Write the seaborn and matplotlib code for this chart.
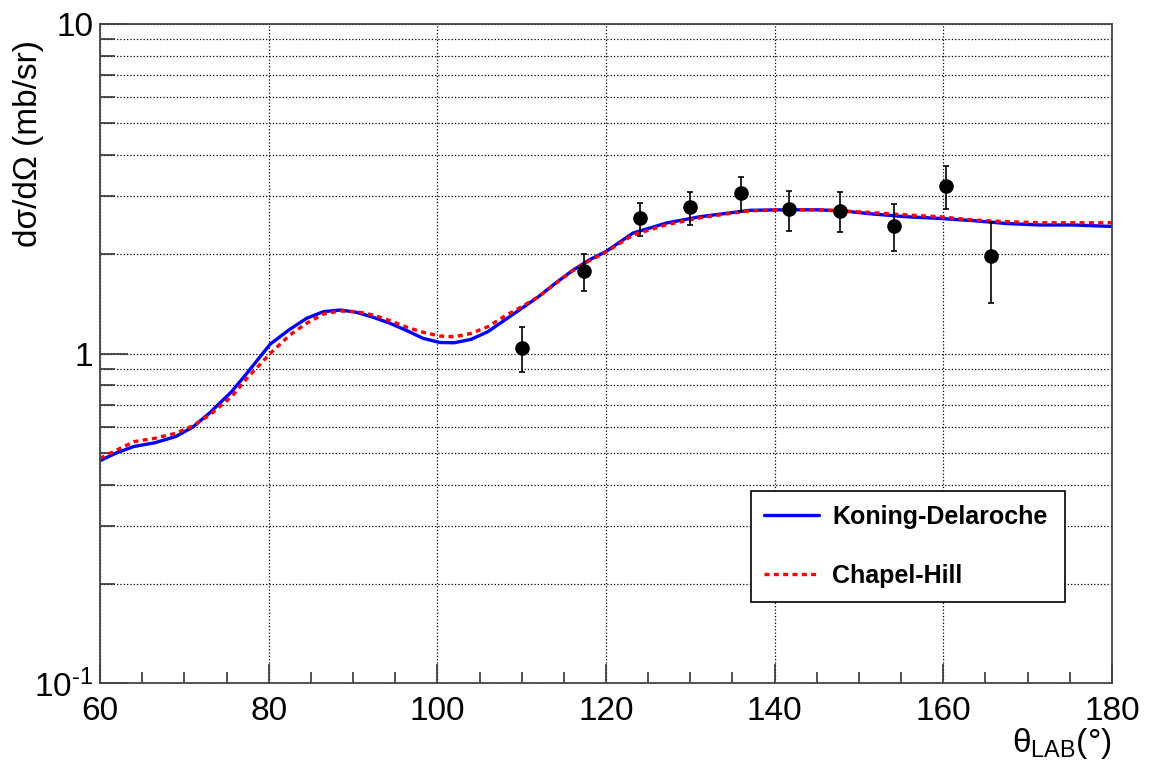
import matplotlib
matplotlib.use("Agg")
import matplotlib.pyplot as plt
import matplotlib.ticker as ticker
import seaborn as sns
import pandas as pd

# Data: measured points
theta_exp = [110.0, 117.4, 124.0, 130.0, 136.0, 141.7, 147.7, 154.1, 160.3, 165.7]
xs_exp = [1.04, 1.78, 2.57, 2.78, 3.07, 2.74, 2.71, 2.44, 3.22, 1.97]
xs_err = [0.16, 0.23, 0.30, 0.32, 0.36, 0.38, 0.375, 0.40, 0.48, 0.545]

# Koning-Delaroche curve
theta_kd = [60, 62, 64, 66.5, 69, 71, 73, 75.6, 77.4, 80.2, 82.5, 84.5, 86.5, 88.5,
            90.4, 92.4, 94.4, 96.4, 98.3, 100.3, 102, 104, 106, 108, 110, 112, 114,
            116, 118, 120, 123.2, 127.2, 131.1, 135.1, 137, 141, 145, 148, 151.7,
            155.7, 159.6, 163.6, 167.5, 171.5, 175.4, 180]
xs_kd = [0.473, 0.500, 0.522, 0.536, 0.560, 0.598, 0.660, 0.766, 0.870, 1.069, 1.184,
         1.279, 1.340, 1.355, 1.334, 1.288, 1.235, 1.173, 1.112, 1.080, 1.078, 1.104,
         1.165, 1.264, 1.371, 1.488, 1.634, 1.784, 1.922, 2.04, 2.32, 2.49, 2.60, 2.68,
         2.72, 2.73, 2.73, 2.71, 2.65, 2.60, 2.57, 2.53, 2.48, 2.455, 2.455, 2.43]

# Chapel-Hill curve
theta_ch = [60, 64, 66.5, 69, 71, 73, 75.6, 77.5, 80.2, 82.5, 84.5, 86.5, 88.5, 90.4,
            92.4, 94.4, 96.4, 98.3, 100.3, 102, 104, 106, 108, 110, 112, 114, 116, 118,
            120, 123.2, 127.2, 131.1, 135.1, 137, 141, 145, 148, 151.7, 155.7, 159.6,
            163.6, 167.5, 171.5, 175.4, 180]
xs_ch = [0.481, 0.540, 0.553, 0.573, 0.603, 0.651, 0.739, 0.845, 1.001, 1.138, 1.235,
         1.318, 1.346, 1.340, 1.309, 1.258, 1.201, 1.160, 1.130, 1.124, 1.151, 1.206,
         1.299, 1.387, 1.488, 1.63, 1.78, 1.91, 2.03, 2.29, 2.46, 2.58, 2.67, 2.71, 2.73,
         2.73, 2.71, 2.675, 2.633, 2.60, 2.541, 2.512, 2.494, 2.494, 2.494]

y_tick_vals = [0.1, 1, 10]
y_tick_labels = ["10$^{\u20101}$", "1", "10"]

sns.set_theme(style="ticks")
plt.rcParams["font.family"] = ["Liberation Sans", "DejaVu Sans"]
plt.rcParams["mathtext.fontset"] = "custom"
plt.rcParams["mathtext.rm"] = "Liberation Sans"
plt.rcParams["mathtext.default"] = "regular"
plt.rcParams["text.color"] = "black"
plt.rcParams["axes.labelcolor"] = "black"

df_kd = pd.DataFrame({"theta": theta_kd, "xs": xs_kd})
df_ch = pd.DataFrame({"theta": theta_ch, "xs": xs_ch})

fig = plt.figure(figsize=(11.51, 7.67), dpi=100)
ax = fig.add_axes([0.0869, 0.1095, 0.8792, 0.8592])

sns.lineplot(data=df_kd, x="theta", y="xs", ax=ax, color="#0000ff", lw=2.4,
             sort=False, label="Koning-Delaroche")
sns.lineplot(data=df_ch, x="theta", y="xs", ax=ax, color="#ff0000", lw=2.4,
             sort=False, label="Chapel-Hill", linestyle=(0, (1.5, 1.3)))
ax.errorbar(theta_exp, xs_exp, yerr=xs_err, fmt="o", color="black", ms=9.5,
            elinewidth=1.2, capsize=2.5, capthick=1.2, zorder=5)

ax.set_yscale("log")
ax.set_xlim(60, 180)
ax.set_ylim(0.1, 10)

# ticks
ax.xaxis.set_major_locator(ticker.MultipleLocator(20))
ax.xaxis.set_minor_locator(ticker.MultipleLocator(5))
ax.yaxis.set_major_locator(ticker.FixedLocator(y_tick_vals))
ax.yaxis.set_major_formatter(ticker.FixedFormatter(y_tick_labels))
ax.yaxis.set_minor_locator(ticker.LogLocator(base=10, subs=range(2, 10)))
ax.yaxis.set_minor_formatter(ticker.NullFormatter())
ax.tick_params(which="both", direction="in", top=False, right=False,
               labelsize=24, colors="#333333", labelcolor="black", width=1.2)
ax.tick_params(axis="x", which="major", length=14, pad=9)
ax.tick_params(axis="x", which="minor", length=8)
ax.tick_params(axis="y", which="major", length=20, pad=5)
ax.tick_params(axis="y", which="minor", length=11)

ax.grid(True, axis="x", which="major", linestyle=":", color="black", lw=0.9)
ax.grid(True, axis="y", which="both", linestyle=":", color="black", lw=0.9)

for s in ax.spines.values():
    s.set_color("#444444")
    s.set_linewidth(1.3)

ax.set_xlabel(r"θ$_{\rm LAB}$(°)", fontsize=24, loc="right")
ax.xaxis.set_label_coords(1.0, -0.065)
ax.set_ylabel("dσ/dΩ (mb/sr)", fontsize=24, loc="top")
ax.yaxis.set_label_coords(-0.055, 0.976)

leg = ax.legend(loc="center left", bbox_to_anchor=(0.643, 0.118, 0.311, 0.178),
                mode="expand", frameon=True, fancybox=False, framealpha=1,
                edgecolor="black", prop={"weight": "bold", "size": 18},
                handlelength=2.2, handletextpad=0.5, borderpad=0.55,
                labelspacing=1.4, borderaxespad=0)
leg.get_frame().set_linewidth(1.2)
for t in leg.get_texts():
    t.set_color("black")

fig.savefig("out.png", dpi=100)
